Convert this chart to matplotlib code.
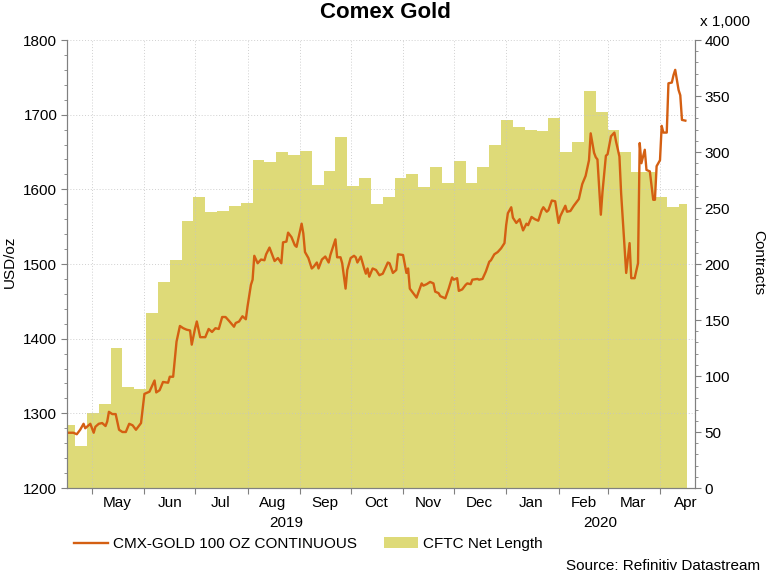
import matplotlib
matplotlib.use('Agg')
import matplotlib.pyplot as plt
import matplotlib.dates as mdates
import matplotlib.transforms as mtransforms
import pandas as pd
from matplotlib.lines import Line2D
from matplotlib.patches import Patch
from matplotlib.ticker import MultipleLocator, NullFormatter

plt.rcParams['font.family'] = ['Liberation Sans', 'DejaVu Sans']

# ---------------- data ----------------
gold_dates = [
    '2019-04-17', '2019-04-20', '2019-04-22', '2019-04-24', '2019-04-26', '2019-04-27', '2019-04-30',
    '2019-05-02', '2019-05-03', '2019-05-05', '2019-05-07', '2019-05-09', '2019-05-10', '2019-05-11',
    '2019-05-13', '2019-05-15', '2019-05-17', '2019-05-19', '2019-05-21', '2019-05-23', '2019-05-25',
    '2019-05-27', '2019-05-30', '2019-06-01', '2019-06-04', '2019-06-07', '2019-06-08', '2019-06-10',
    '2019-06-12', '2019-06-15', '2019-06-16', '2019-06-18', '2019-06-20', '2019-06-22', '2019-06-24',
    '2019-06-26', '2019-06-28', '2019-06-29', '2019-07-01', '2019-07-02', '2019-07-04', '2019-07-07',
    '2019-07-09', '2019-07-11', '2019-07-13', '2019-07-15', '2019-07-17', '2019-07-19', '2019-07-21',
    '2019-07-24', '2019-07-25', '2019-07-27', '2019-07-29', '2019-07-31', '2019-08-01', '2019-08-03',
    '2019-08-04', '2019-08-05', '2019-08-07', '2019-08-09', '2019-08-11', '2019-08-12', '2019-08-14',
    '2019-08-15', '2019-08-17', '2019-08-19', '2019-08-21', '2019-08-22', '2019-08-24', '2019-08-25',
    '2019-08-27', '2019-08-29', '2019-08-30', '2019-09-02', '2019-09-03', '2019-09-04', '2019-09-06',
    '2019-09-08', '2019-09-09', '2019-09-11', '2019-09-12', '2019-09-14', '2019-09-16', '2019-09-18',
    '2019-09-19', '2019-09-22', '2019-09-23', '2019-09-25', '2019-09-26', '2019-09-28', '2019-09-29',
    '2019-10-01', '2019-10-03', '2019-10-04', '2019-10-05', '2019-10-07', '2019-10-09', '2019-10-10',
    '2019-10-11', '2019-10-12', '2019-10-14', '2019-10-16', '2019-10-18', '2019-10-20', '2019-10-23',
    '2019-10-24', '2019-10-26', '2019-10-28', '2019-10-29', '2019-11-01', '2019-11-03', '2019-11-04',
    '2019-11-05', '2019-11-07', '2019-11-09', '2019-11-12', '2019-11-13', '2019-11-15', '2019-11-17',
    '2019-11-19', '2019-11-20', '2019-11-22', '2019-11-23', '2019-11-25', '2019-11-26', '2019-11-28',
    '2019-11-30', '2019-12-01', '2019-12-03', '2019-12-04', '2019-12-06', '2019-12-08', '2019-12-09',
    '2019-12-11', '2019-12-12', '2019-12-15', '2019-12-16', '2019-12-18', '2019-12-20', '2019-12-22',
    '2019-12-23', '2019-12-25', '2019-12-27', '2019-12-29', '2019-12-31', '2020-01-01', '2020-01-02',
    '2020-01-04', '2020-01-05', '2020-01-07', '2020-01-09', '2020-01-11', '2020-01-13', '2020-01-14',
    '2020-01-16', '2020-01-18', '2020-01-20', '2020-01-22', '2020-01-23', '2020-01-25', '2020-01-26',
    '2020-01-28', '2020-01-30', '2020-02-01', '2020-02-02', '2020-02-05', '2020-02-06', '2020-02-08',
    '2020-02-10', '2020-02-13', '2020-02-15', '2020-02-17', '2020-02-19', '2020-02-20', '2020-02-22',
    '2020-02-23', '2020-02-24', '2020-02-26', '2020-02-27', '2020-02-29', '2020-03-01', '2020-03-03',
    '2020-03-05', '2020-03-06', '2020-03-08', '2020-03-09', '2020-03-11', '2020-03-12', '2020-03-14',
    '2020-03-15', '2020-03-17', '2020-03-19', '2020-03-20', '2020-03-21', '2020-03-23', '2020-03-24',
    '2020-03-26', '2020-03-28', '2020-03-29', '2020-03-30', '2020-04-01', '2020-04-02', '2020-04-03',
    '2020-04-05', '2020-04-06', '2020-04-08', '2020-04-09', '2020-04-10', '2020-04-12', '2020-04-13',
    '2020-04-14', '2020-04-16',
]
gold_prices = [
    1274, 1274, 1272, 1278, 1286, 1280, 1286,
    1274, 1282, 1286, 1287, 1283, 1289, 1302,
    1299, 1299, 1278, 1275, 1275, 1286, 1284,
    1278, 1287, 1326, 1329, 1344, 1328, 1331,
    1342, 1341, 1349, 1349, 1396, 1417, 1414,
    1412, 1411, 1392, 1414, 1423, 1402, 1402,
    1413, 1409, 1414, 1413, 1429, 1429, 1424,
    1416, 1421, 1423, 1430, 1426, 1443, 1472,
    1479, 1511, 1501, 1506, 1505, 1513, 1522,
    1516, 1504, 1508, 1501, 1529, 1530, 1542,
    1536, 1525, 1523, 1554, 1541, 1516, 1508,
    1494, 1496, 1502, 1494, 1506, 1510, 1502,
    1512, 1533, 1509, 1509, 1501, 1467, 1492,
    1508, 1511, 1509, 1502, 1510, 1494, 1487,
    1494, 1483, 1494, 1492, 1485, 1487, 1502,
    1501, 1488, 1492, 1513, 1512, 1488, 1494,
    1467, 1461, 1455, 1474, 1471, 1473, 1476,
    1474, 1463, 1461, 1457, 1455, 1454, 1467,
    1482, 1479, 1481, 1464, 1466, 1472, 1474,
    1473, 1479, 1480, 1479, 1480, 1490, 1503,
    1505, 1513, 1516, 1521, 1528, 1552, 1568,
    1576, 1562, 1555, 1560, 1545, 1554, 1552,
    1563, 1560, 1558, 1572, 1576, 1570, 1572,
    1585, 1584, 1555, 1564, 1578, 1570, 1571,
    1578, 1587, 1607, 1618, 1639, 1675, 1649,
    1643, 1640, 1566, 1597, 1645, 1647, 1671,
    1676, 1664, 1644, 1595, 1523, 1488, 1528,
    1481, 1481, 1501, 1662, 1635, 1653, 1626,
    1624, 1586, 1586, 1631, 1639, 1685, 1676,
    1676, 1742, 1743, 1753, 1760, 1733, 1726,
    1693, 1692,
]

cftc_weeks = [
    '2019-04-14', '2019-04-21', '2019-04-28', '2019-05-05', '2019-05-12', '2019-05-19', '2019-05-26',
    '2019-06-02', '2019-06-09', '2019-06-16', '2019-06-23', '2019-06-30', '2019-07-07', '2019-07-14',
    '2019-07-21', '2019-07-28', '2019-08-04', '2019-08-11', '2019-08-18', '2019-08-25', '2019-09-01',
    '2019-09-08', '2019-09-15', '2019-09-22', '2019-09-29', '2019-10-06', '2019-10-13', '2019-10-20',
    '2019-10-27', '2019-11-03', '2019-11-10', '2019-11-17', '2019-11-24', '2019-12-01', '2019-12-08',
    '2019-12-15', '2019-12-22', '2019-12-29', '2020-01-05', '2020-01-12', '2020-01-19', '2020-01-26',
    '2020-02-02', '2020-02-09', '2020-02-16', '2020-02-23', '2020-03-01', '2020-03-08', '2020-03-15',
    '2020-03-22', '2020-03-29', '2020-04-05', '2020-04-12',
]
cftc_net_length = [
    56, 37.5, 67, 75, 125, 90, 88,
    156.5, 184, 204, 238, 259.5, 246, 247,
    252, 254.7, 293, 291, 300, 297, 301,
    270.5, 283, 313, 269.6, 276.5, 253.6, 259.6,
    277, 280, 268.5, 287, 272, 292, 272,
    286.3, 306, 328.6, 322, 319.6, 318.75, 330,
    300, 309, 354.7, 336, 320, 300, 282.4,
    282, 259.5, 250.6, 253.6,
]
cftc_end = '2020-04-17'

title = 'Comex Gold'
gold_label = 'CMX-GOLD 100 OZ CONTINUOUS'
cftc_label = 'CFTC Net Length'
source = 'Source: Refinitiv Datastream'

# ---------------- styles ----------------
line_color = '#D45F12'
area_color = '#DEDA78'
spine_color = '#808080'
grid_color = '#c4c4c4'
FS = 11

W, H = 767, 576
fig = plt.figure(figsize=(W / 100, H / 100), dpi=100)
L, R, T, B = 67, 695, 40, 488
ax = fig.add_axes([L / W, 1 - B / H, (R - L) / W, (B - T) / H])
ax2 = ax.twinx()

gx = pd.to_datetime(gold_dates)
wx = pd.to_datetime(cftc_weeks + [cftc_end])
wy = cftc_net_length + [cftc_net_length[-1]]

ax2.fill_between(wx, 0, wy, step='post', color=area_color, linewidth=0)
ax.plot(gx, gold_prices, color=line_color, lw=1.7, solid_joinstyle='round')

ax.set_zorder(ax2.get_zorder() + 1)
ax.patch.set_visible(False)

x0 = pd.Timestamp('2019-04-16 05:00')
x1 = pd.Timestamp('2020-04-21 17:00')
ax.set_xlim(x0, x1)
ax.set_ylim(1200, 1800)
ax2.set_ylim(0, 400)

ax.yaxis.set_major_locator(MultipleLocator(100))
ax.yaxis.set_minor_locator(MultipleLocator(20))
ax2.yaxis.set_major_locator(MultipleLocator(50))
ax2.yaxis.set_minor_locator(MultipleLocator(10))

ax.xaxis.set_major_locator(mdates.MonthLocator())
ax.xaxis.set_major_formatter(NullFormatter())
ax.xaxis.set_minor_locator(mdates.MonthLocator(bymonthday=16))
ax.xaxis.set_minor_formatter(mdates.DateFormatter('%b'))

ax.tick_params(axis='x', which='major', length=4, color=spine_color, direction='out')
ax.tick_params(axis='x', which='minor', length=0, pad=6, labelsize=FS)
ax.tick_params(axis='y', which='major', length=4, color=spine_color, labelsize=FS, pad=3)
ax.tick_params(axis='y', which='minor', length=2, color=spine_color)
ax2.tick_params(axis='y', which='major', length=4, color=spine_color, labelsize=FS, pad=3)
ax2.tick_params(axis='y', which='minor', length=2, color=spine_color)

for a in (ax, ax2):
    a.spines['top'].set_visible(False)
    for s in ('left', 'right', 'bottom'):
        a.spines[s].set_color(spine_color)
        a.spines[s].set_linewidth(0.8)

ax.grid(True, which='major', axis='both', linestyle=(0, (1, 2)), color=grid_color, lw=0.7, alpha=0.8)

# year labels
trans = mtransforms.blended_transform_factory(ax.transData, fig.transFigure)
ny = pd.Timestamp('2020-01-01')
y19 = x0 + (ny - x0) / 2
y20 = ny + (x1 - ny) / 2
ax.text(y19, 1 - 523 / H, '2019', transform=trans, ha='center', va='center', fontsize=FS)
ax.text(y20, 1 - 523 / H, '2020', transform=trans, ha='center', va='center', fontsize=FS)

fig.text(385 / W, 1 - 13 / H, title, ha='center', va='center', fontsize=16, fontweight='bold')
fig.text(10 / W, 1 - 262 / H, 'USD/oz', rotation=90, ha='center', va='center', fontsize=FS)
fig.text(758 / W, 1 - 263 / H, 'Contracts', rotation=270, ha='center', va='center', fontsize=FS)
fig.text(700 / W, 1 - 22 / H, 'x 1,000', ha='left', va='center', fontsize=FS)
fig.text(760 / W, 1 - 566 / H, source, ha='right', va='center', fontsize=FS)

handles = [Line2D([0], [0], color=line_color, lw=1.7),
           Patch(facecolor=area_color, edgecolor='none')]
fig.legend(handles, [gold_label, cftc_label], loc='center left',
           bbox_to_anchor=(74 / W, 1 - 544 / H), ncol=2, frameon=False,
           fontsize=FS, handlelength=2.2, handletextpad=0.35, columnspacing=1.8,
           borderaxespad=0, borderpad=0)

fig.savefig('out.png', dpi=100)
